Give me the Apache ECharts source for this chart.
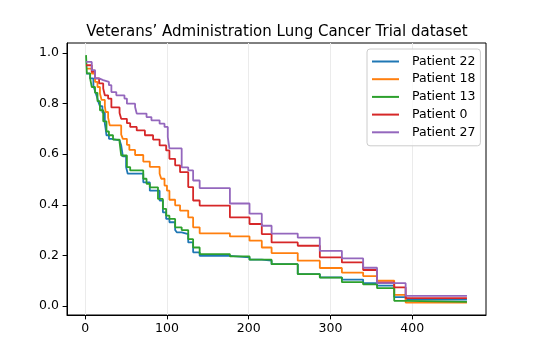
<!DOCTYPE html>
<html>
<head>
<meta charset="utf-8">
<script src="https://cdn.jsdelivr.net/npm/echarts@6/dist/echarts.min.js"></script>
<style>html,body{margin:0;padding:0;background:#fff}#c{width:540px;height:360px}</style>
</head>
<body>
<div id="c"></div>
<script>
const titleText = 'Veterans’ Administration Lung Cancer Trial dataset';
const patientNames = ['Patient 22', 'Patient 18', 'Patient 13', 'Patient 0', 'Patient 27'];
const xTicks = [0, 100, 200, 300, 400];
const yTicks = [0, 0.2, 0.4, 0.6, 0.8, 1.0];

// Patient 22
const tP22 = [1, 6, 10, 12, 14, 16, 18, 21, 24, 25, 26, 29, 32, 42, 44, 46, 50, 52, 71, 79, 91, 95, 99, 103, 110, 112, 118, 126, 132, 140, 177, 201, 216, 228, 260, 287, 314, 340, 357, 378, 392, 467];
const sP22 = [0.919, 0.900, 0.870, 0.850, 0.830, 0.808, 0.790, 0.765, 0.721, 0.700, 0.675, 0.661, 0.655, 0.648, 0.635, 0.592, 0.549, 0.523, 0.489, 0.456, 0.417, 0.370, 0.344, 0.331, 0.300, 0.291, 0.284, 0.251, 0.212, 0.198, 0.192, 0.183, 0.179, 0.165, 0.126, 0.113, 0.104, 0.090, 0.080, 0.035, 0.025, 0.025];

// Patient 18
const tP18 = [1, 8, 12, 15, 18, 20, 24, 25, 28, 30, 44, 46, 51, 54, 61, 71, 79, 91, 93, 97, 100, 103, 110, 116, 126, 132, 140, 177, 201, 216, 228, 260, 287, 314, 340, 357, 378, 392, 467];
const sP18 = [0.939, 0.919, 0.886, 0.866, 0.840, 0.815, 0.790, 0.767, 0.745, 0.714, 0.678, 0.661, 0.637, 0.617, 0.597, 0.571, 0.550, 0.523, 0.503, 0.476, 0.456, 0.420, 0.398, 0.377, 0.350, 0.311, 0.287, 0.275, 0.258, 0.231, 0.209, 0.179, 0.150, 0.132, 0.118, 0.100, 0.044, 0.013, 0.013];

// Patient 13
const tP13 = [1, 2, 6, 8, 12, 15, 18, 22, 26, 29, 34, 42, 44, 51, 55, 71, 75, 79, 89, 95, 99, 103, 110, 118, 126, 132, 140, 177, 201, 228, 260, 287, 314, 340, 357, 378, 392, 467];
const sP13 = [0.992, 0.920, 0.900, 0.866, 0.843, 0.810, 0.774, 0.730, 0.690, 0.675, 0.658, 0.648, 0.595, 0.549, 0.536, 0.503, 0.483, 0.469, 0.423, 0.384, 0.357, 0.344, 0.311, 0.300, 0.264, 0.231, 0.205, 0.196, 0.183, 0.165, 0.126, 0.112, 0.094, 0.085, 0.070, 0.020, 0.016, 0.016];

// Patient 0
const tP0 = [1, 8, 12, 17, 22, 24, 28, 32, 42, 44, 51, 55, 63, 73, 83, 91, 99, 103, 110, 116, 126, 132, 140, 177, 201, 216, 228, 260, 287, 314, 340, 357, 378, 392, 467];
const sP0 = [0.952, 0.926, 0.900, 0.880, 0.860, 0.833, 0.820, 0.785, 0.763, 0.740, 0.723, 0.708, 0.694, 0.675, 0.658, 0.635, 0.615, 0.582, 0.556, 0.529, 0.470, 0.417, 0.397, 0.350, 0.324, 0.284, 0.251, 0.238, 0.192, 0.172, 0.142, 0.093, 0.073, 0.031, 0.031];

// Patient 27
const tP27 = [1, 8, 12, 17, 22, 29, 32, 38, 48, 51, 61, 63, 75, 81, 91, 97, 101, 103, 118, 126, 132, 140, 177, 201, 216, 228, 260, 287, 314, 340, 357, 392, 467];
const sP27 = [0.965, 0.933, 0.900, 0.893, 0.886, 0.873, 0.846, 0.833, 0.820, 0.800, 0.787, 0.761, 0.747, 0.734, 0.721, 0.708, 0.668, 0.623, 0.548, 0.536, 0.496, 0.466, 0.405, 0.365, 0.317, 0.286, 0.270, 0.218, 0.188, 0.151, 0.090, 0.040, 0.040];

const seriesTimes = [tP22, tP18, tP13, tP0, tP27];
const seriesSurv = [sP22, sP18, sP13, sP0, sP27];
const colors = ['#1f77b4', '#ff7f0e', '#2ca02c', '#d62728', '#9467bd'];

const font = 'DejaVu Sans';
const chart = echarts.init(document.getElementById('c'), null, {renderer: 'canvas'});

const series = patientNames.map((name, i) => ({
  name: name,
  type: 'line',
  step: 'end',
  symbol: 'none',
  showSymbol: false,
  data: seriesTimes[i].map((t, j) => [t, seriesSurv[i][j]]),
  lineStyle: {width: 1.8, color: colors[i]},
  itemStyle: {color: colors[i]},
  emphasis: {disabled: true},
  z: 2 + i
}));

chart.setOption({
  animation: false,
  backgroundColor: '#fff',
  title: {
    text: titleText,
    left: 277,
    textAlign: 'center',
    top: 25,
    padding: 0,
    textStyle: {fontFamily: font, fontSize: 15, fontWeight: 'normal', color: '#000'}
  },
  legend: {
    orient: 'vertical',
    left: 367,
    top: 49,
    padding: [5, 5, 6, 5],
    icon: 'rect',
    itemWidth: 27,
    itemHeight: 2,
    itemGap: 2.7,
    backgroundColor: 'rgba(255,255,255,0.8)',
    borderColor: '#cccccc',
    borderWidth: 1,
    borderRadius: 3,
    textStyle: {fontFamily: font, fontSize: 12.5, lineHeight: 15, color: '#000', padding: [0, 0, 0, 8]},
    data: patientNames
  },
  grid: {
    left: 67, top: 43, width: 419, height: 272,
    show: true, borderColor: '#000', borderWidth: 1, backgroundColor: 'transparent'
  },
  xAxis: {
    type: 'value',
    min: -22.3,
    max: 490.3,
    axisLine: {show: true, onZero: false, lineStyle: {color: '#000', width: 1}},
    axisTick: {show: true, length: 4.4, customValues: xTicks, lineStyle: {color: '#000', width: 1}},
    axisLabel: {customValues: xTicks, margin: 7, fontFamily: font, fontSize: 12.5, color: '#000'},
    splitLine: {show: true, lineStyle: {color: '#ebebeb', width: 1}}
  },
  yAxis: {
    type: 'value',
    min: -0.036,
    max: 1.04,
    axisLine: {show: true, onZero: false, lineStyle: {color: '#000', width: 1}},
    axisTick: {show: true, length: 4.4, customValues: yTicks, lineStyle: {color: '#000', width: 1}},
    axisLabel: {customValues: yTicks, margin: 8, fontFamily: font, fontSize: 12.5, color: '#000',
      formatter: v => v.toFixed(1)},
    splitLine: {show: false}
  },
  series: series
});
</script>
</body>
</html>
